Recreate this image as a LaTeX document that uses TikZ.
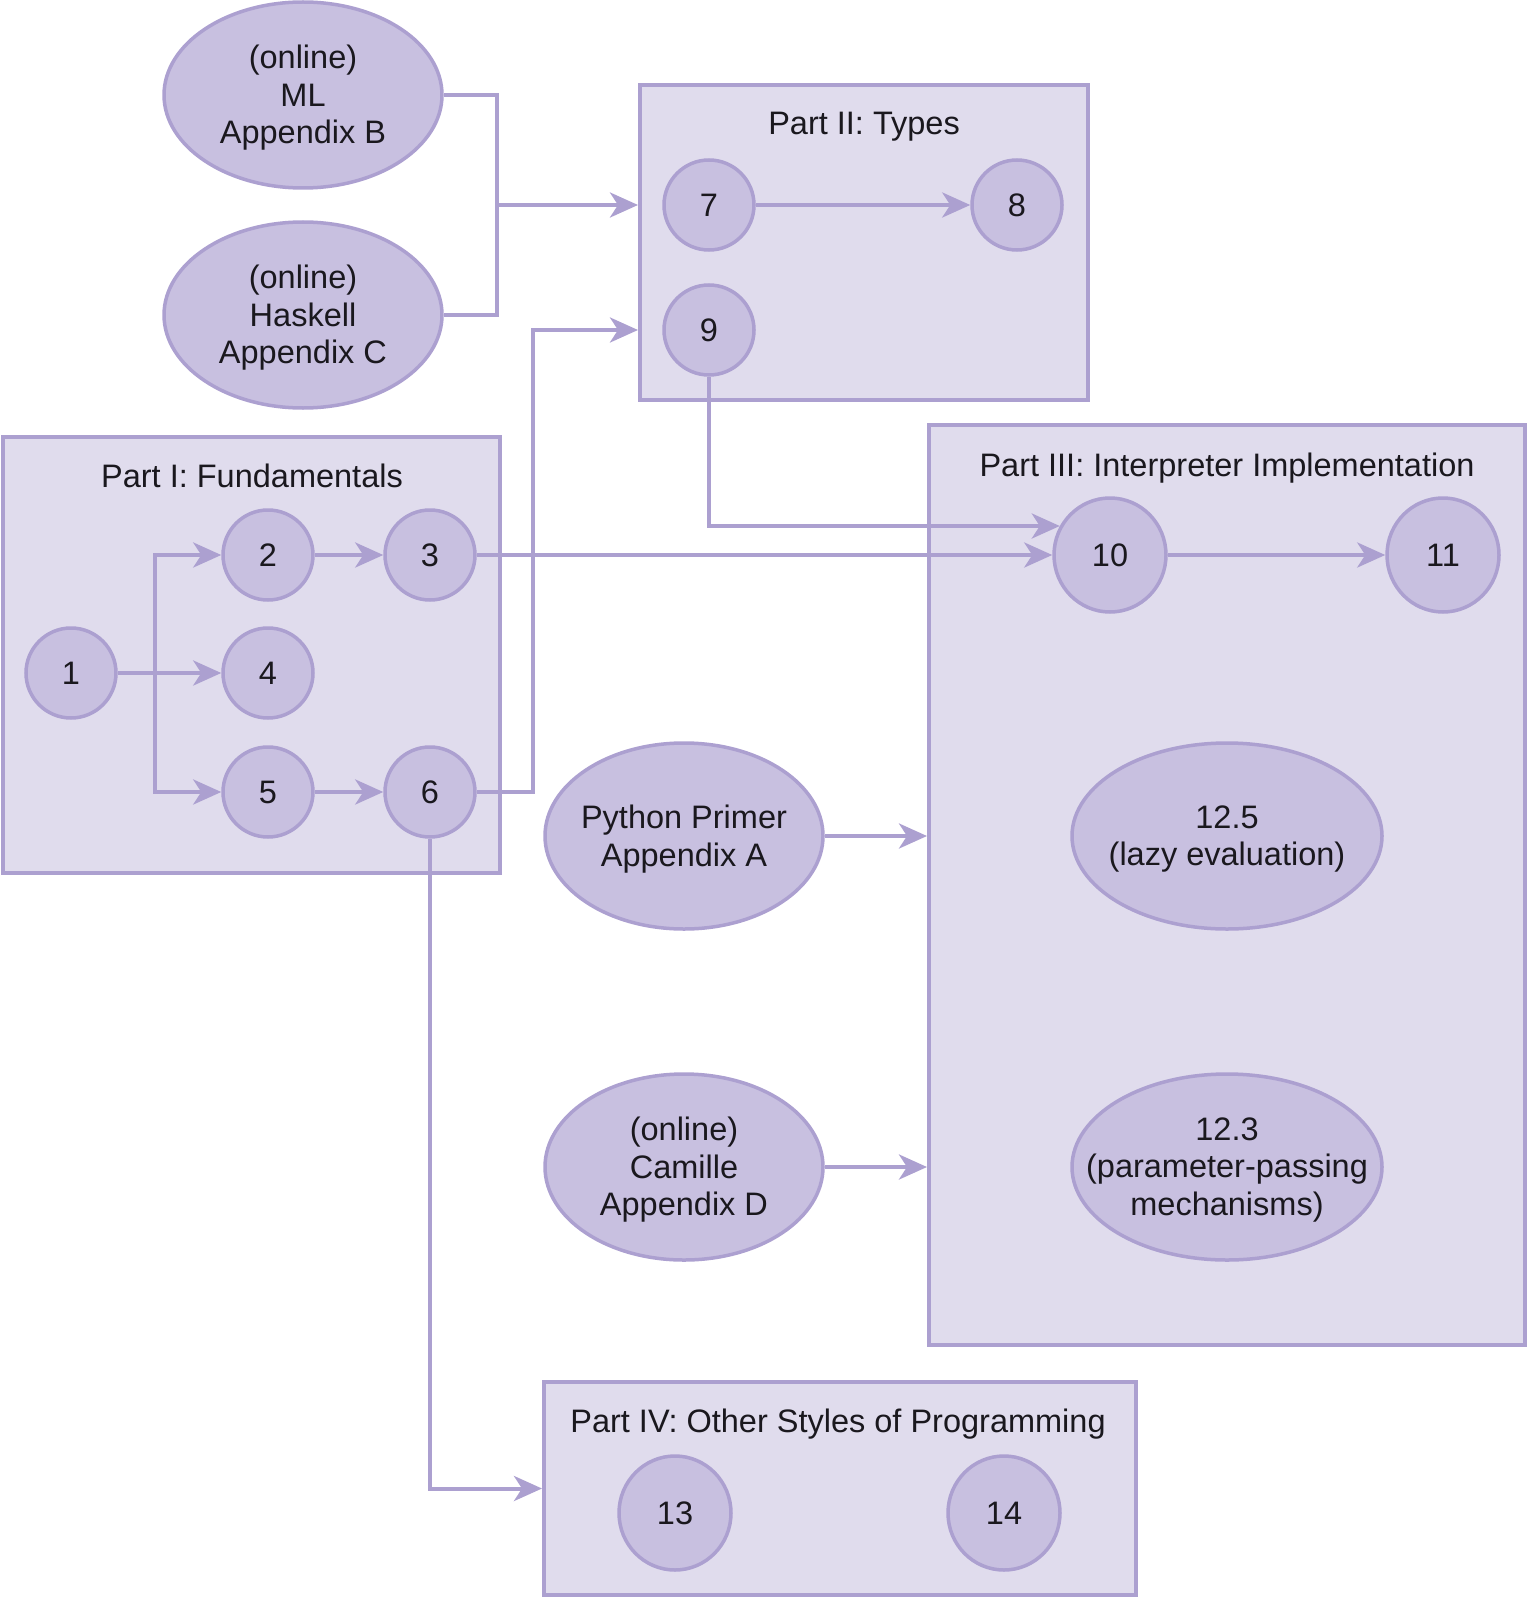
\documentclass[tikz,border=0pt]{standalone}
\usepackage{fontspec}
\setmainfont{Liberation Sans}
\usetikzlibrary{shapes.geometric,arrows.meta}
\definecolor{edgeline}{RGB}{172,160,208}
\definecolor{partfill}{RGB}{224,220,237}
\definecolor{chapfill}{RGB}{200,192,224}
\definecolor{inktext}{RGB}{26,24,30}
\begin{document}
\begin{tikzpicture}[x=1pt,y=-1pt,
    font=\fontsize{32.5pt}{37.5pt}\selectfont, text=inktext,
    partbox/.style={draw=edgeline, fill=partfill, line width=4pt, inner sep=0pt},
    parttitle/.style={anchor=base},
    chap/.style={ellipse, draw=edgeline, fill=chapfill, line width=3.5pt, inner sep=0pt,
      minimum width=90pt, minimum height=90pt},
    bigchap/.style={chap, minimum width=112pt, minimum height=114pt},
    oval/.style={chap, minimum width=278pt, minimum height=186pt},
    wideoval/.style={chap, minimum width=310pt, minimum height=186pt},
    ovaltext/.style={align=center, inner sep=0pt, yshift=-3pt},
    link/.style={draw=edgeline, line width=4pt},
    tip/.style={link, -{Stealth[length=28pt, width=25pt, inset=8pt]}}]
  \useasboundingbox (0,0) rectangle (1527,1597);
  % parts
  \node[partbox, minimum width=497pt, minimum height=436pt] (partI) at (251.5,655) {};
  \node[partbox, minimum width=448pt, minimum height=315pt] (partII) at (864,242.5) {};
  \node[partbox, minimum width=596pt, minimum height=920pt] (partIII) at (1227,885) {};
  \node[partbox, minimum width=592pt, minimum height=213pt] (partIV) at (840,1488.5) {};
  \node[parttitle] (titleI) at (252,487) {Part I: Fundamentals};
  \node[parttitle] (titleII) at (864,135) {Part II: Types};
  \node[parttitle] (titleIII) at (1227,476) {Part III: Interpreter Implementation};
  \node[parttitle] (titleIV) at (838,1432) {Part IV: Other Styles of Programming};
  % chapters
  \draw
    (71,673) node[chap] (1){1}
    (268,555) node[chap] (2){2}
    (430,555) node[chap] (3){3}
    (268,673) node[chap] (4){4}
    (268,792) node[chap] (5){5}
    (430,792) node[chap] (6){6}
    (709,205) node[chap] (7){7}
    (1017,205) node[chap] (8){8}
    (709,330) node[chap] (9){9}
    (1110,555) node[bigchap] (10){10}
    (1443,555) node[bigchap] (11){11}
    (675,1513) node[bigchap] (13){13}
    (1004,1513) node[bigchap] (14){14};
  % appendices and sections
  \node[oval] (ml) at (303,95) {};
  \node[ovaltext] (mltext) at (ml) {(online)\\ML\\Appendix B};
  \node[oval] (haskell) at (303,315) {};
  \node[ovaltext] (haskelltext) at (haskell) {(online)\\Haskell\\Appendix C};
  \node[oval] (python) at (684,836) {};
  \node[ovaltext] (pythontext) at (python) {Python Primer\\Appendix A};
  \node[oval] (camille) at (684,1167) {};
  \node[ovaltext] (camilletext) at (camille) {(online)\\Camille\\Appendix D};
  \node[wideoval] (lazy) at (1227,836) {};
  \node[ovaltext] (lazytext) at (lazy) {12.5\\(lazy evaluation)};
  \node[wideoval] (params) at (1227,1167) {};
  \node[ovaltext] (paramstext) at (params) {12.3\\(parameter-passing\\mechanisms)};
  \coordinate (split) at (155,673);
  \coordinate (mlmerge) at (497,205);
  \coordinate (sixup) at (533,330);
  \begin{scope}[link]
    \draw (ml.east) -| (mlmerge) |- (haskell.east);
    \draw (1) -- (split);
  \end{scope}
  \begin{scope}[tip]
    \draw (mlmerge) -- (mlmerge -| partII.west);
    \draw (split) -- (4);
    \draw (split) |- (2);
    \draw (split) |- (5);
    \draw (2) -- (3);
    \draw (5) -- (6);
    \draw (7) -- (8);
    \draw (3) -- (10);
    \draw (9) |- (10.150);
    \draw (10) -- (11);
    \draw (6) -| (sixup) -- (sixup -| partII.west);
    \draw (6) |- (partIV.west);
    \draw (python) -- (python -| partIII.west);
    \draw (camille) -- (camille -| partIII.west);
  \end{scope}
\end{tikzpicture}
\end{document}
